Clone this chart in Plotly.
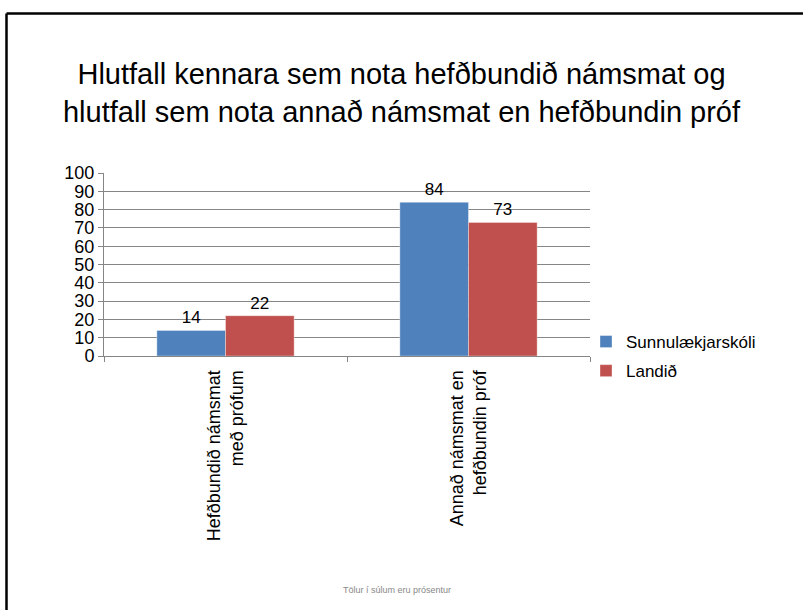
import plotly.graph_objects as go

categories = ["Hefðbundið námsmat<br>með prófum", "Annað námsmat en<br>hefðbundin próf"]
series_names = ["Sunnulækjarskóli", "Landið"]
sunnulaekjarskoli = [14, 84]
landid = [22, 73]
y_ticks = list(range(0, 101, 10))

colors = ["#4F81BD", "#C0504D"]
FONT = "Liberation Sans"

W, H = 803, 610
ML, MR, MT, MB = 104, 213, 173, 254
PW, PH = W - ML - MR, H - MT - MB


def px_x(x):
    return (x - ML) / PW


def px_y(y):
    return (H - MB - y) / PH


fig = go.Figure()
for name, vals, col in zip(series_names, [sunnulaekjarskoli, landid], colors):
    fig.add_trace(go.Bar(
        x=categories, y=vals, name=name, legendgroup=name,
        marker=dict(color=col, line=dict(color="rgba(255,255,255,0.6)", width=0.6)),
        text=[str(v) for v in vals], textposition="outside",
        textfont=dict(family=FONT, size=17, color="#000"),
        cliponaxis=False,
    ))

fig.update_layout(
    width=W, height=H,
    margin=dict(l=ML, r=MR, t=MT, b=MB, autoexpand=False),
    paper_bgcolor="white", plot_bgcolor="white",
    barmode="group", bargap=0.435, bargroupgap=0,
    font=dict(family=FONT, color="#000"),
    title=dict(
        text="Hlutfall kennara sem nota hefðbundið námsmat og<br>hlutfall sem nota annað námsmat en hefðbundin próf",
        x=0.5, xanchor="center", y=1 - 84 / H, yanchor="middle",
        font=dict(family=FONT, size=29, color="#000"),
    ),
    showlegend=True,
    legend=dict(
        x=px_x(586), y=px_y(324), xanchor="left", yanchor="top",
        font=dict(family=FONT, size=17, color="#000"),
        traceorder="grouped", tracegroupgap=4,
        bgcolor="rgba(0,0,0,0)",
    ),
    xaxis=dict(
        showline=True, linecolor="#868686", linewidth=1,
        ticks="outside", tickson="boundaries", ticklen=5, tickcolor="#868686",
        tickangle=-90, tickfont=dict(family=FONT, size=18, color="#000"),
        ticklabelstandoff=6,
        showgrid=False,
    ),
    yaxis=dict(
        range=[0, 100], tickvals=y_ticks, ticktext=[str(v) for v in y_ticks],
        showline=True, linecolor="#868686", linewidth=1,
        ticks="outside", ticklen=5, tickcolor="#868686",
        showgrid=True, gridcolor="#868686", gridwidth=1,
        zeroline=False,
        tickfont=dict(family=FONT, size=18, color="#000"),
    ),
    shapes=[
        dict(type="line", xref="paper", yref="paper",
             x0=px_x(6.5), x1=px_x(803), y0=px_y(13.5), y1=px_y(13.5),
             line=dict(color="#000", width=2.5)),
        dict(type="line", xref="paper", yref="paper",
             x0=px_x(6.5), x1=px_x(6.5), y0=px_y(13.5), y1=px_y(610),
             line=dict(color="#000", width=2.5)),
    ],
    annotations=[
        dict(text="Tölur í súlum eru prósentur", xref="paper", yref="paper",
             x=px_x(397), y=px_y(590), xanchor="center", yanchor="middle",
             showarrow=False, font=dict(family=FONT, size=9, color="#888")),
    ],
)

fig.write_html("out.html", config={"displayModeBar": False},
               post_script="document.body.style.margin='0';")
